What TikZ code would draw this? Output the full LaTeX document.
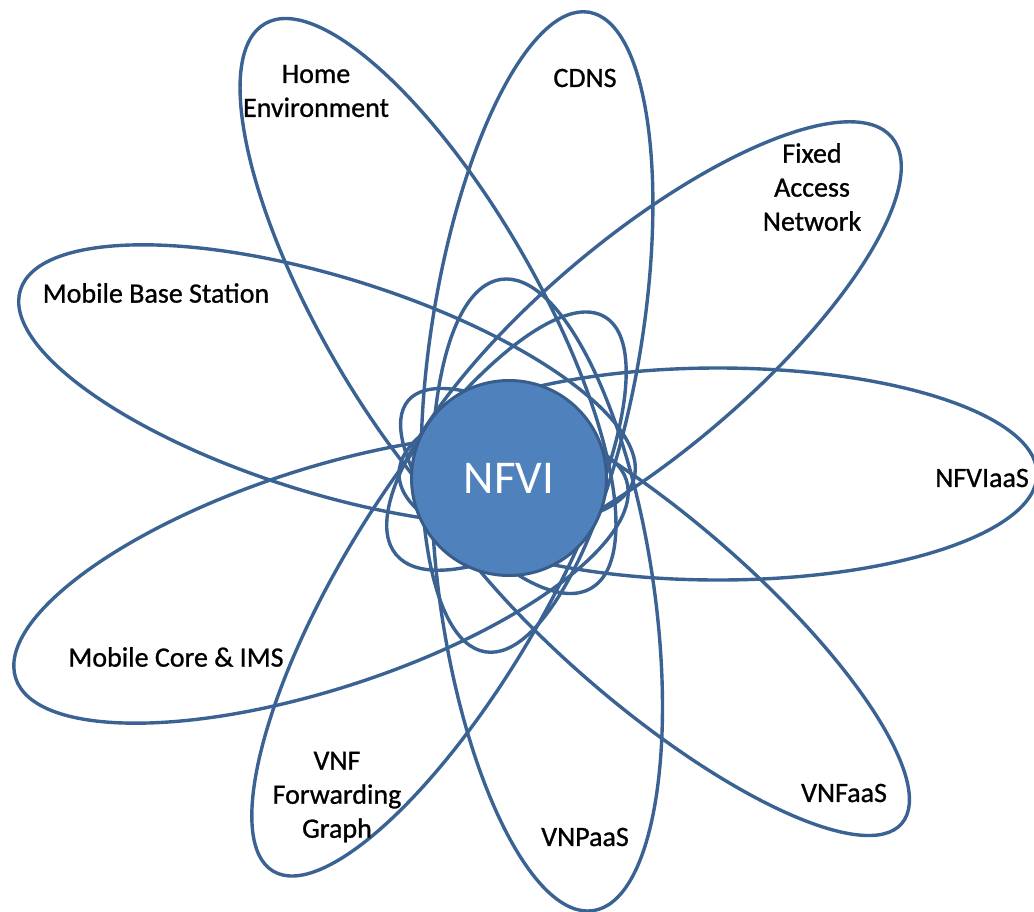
\documentclass[tikz,border=0pt]{standalone}
\usepackage{fontspec}
\setmainfont{Carlito}
\newfontfamily\tagfont{Carlito}[FakeBold=0.9]
\usepackage{tikz}
\usetikzlibrary{shapes.geometric}
\definecolor{ringblue}{HTML}{3A6394}
\definecolor{coreblue}{HTML}{4F81BD}
\definecolor{coreedge}{HTML}{385D8A}

\begin{document}
\begin{tikzpicture}[x=1pt,y=-1pt,
  orbit/.style={draw=ringblue, line width=3.4pt, ellipse, inner sep=0pt},
  tag/.style={font=\tagfont\fontsize{28}{34}\selectfont, align=center, text=black}]
\useasboundingbox (0,0) rectangle (1034,911);
% the ellipses, drawn first so the core sits on top
\node[orbit, rotate=-60, minimum width=652, minimum height=216] (home) at (428,306) {};
\node[orbit, rotate=80.8, minimum width=648, minimum height=210] (cdns) at (537,332) {};
\node[orbit, rotate=40.1, minimum width=648, minimum height=214] (fixed) at (644,346) {};
\node[orbit, rotate=-17.2, minimum width=642, minimum height=216] (mbs) at (327,385) {};
\node[orbit, rotate=0, minimum width=638, minimum height=212] (iaas) at (718,474) {};
\node[orbit, rotate=18, minimum width=642, minimum height=220] (core) at (321,579) {};
\node[orbit, rotate=59.1, minimum width=646, minimum height=202] (fg) at (439,594) {};
\node[orbit, rotate=98.3, minimum width=638, minimum height=214] (paas) at (547,595) {};
\node[orbit, rotate=-40.6, minimum width=650, minimum height=190] (faas) at (655,612) {};
% core
\node[circle, fill=coreblue, draw=coreedge, line width=3pt, minimum size=195,
  text=white, font=\fontsize{47}{56}\selectfont] (nfvi) at (509,478) {NFVI};
% labels
\node[tag] (homel) at (316,91) {Home\\Environment};
\node[tag] (cdnsl) at (585,78) {CDNS};
\node[tag] (fixedl) at (812,187) {Fixed\\Access\\Network};
\node[tag] (mbsl) at (156,293) {Mobile Base Station};
\node[tag] (iaasl) at (982,478) {NFVIaaS};
\node[tag] (corel) at (176,657) {Mobile Core \& IMS};
\node[tag] (fgl) at (337,797) {VNF\\Forwarding\\Graph};
\node[tag] (paasl) at (585,837) {VNPaaS};
\node[tag] (faasl) at (844,793) {VNFaaS};
\end{tikzpicture}
\end{document}
